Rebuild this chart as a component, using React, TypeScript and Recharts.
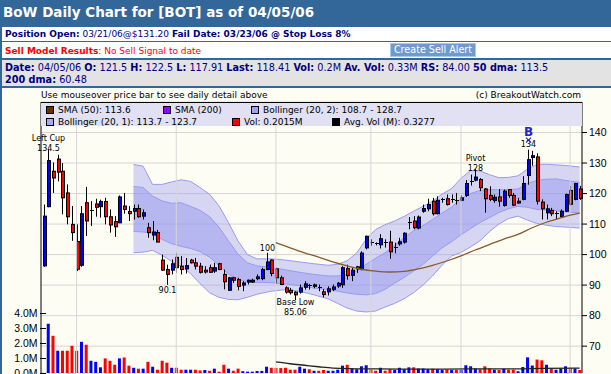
import React from 'react';
import {
  ComposedChart,
  Bar,
  Line,
  Area,
  XAxis,
  YAxis,
  CartesianGrid,
  ReferenceLine,
  ReferenceDot,
  Cell,
} from 'recharts';

// trading days shown, 10/21/05 .. 04/05/06
const octDays = ['10/21', '10/24', '10/25', '10/26', '10/27', '10/28', '10/31'];
const novDays = ['11/01', '11/02', '11/03', '11/04', '11/07', '11/08', '11/09', '11/10', '11/11', '11/14', '11/15', '11/16', '11/17', '11/18', '11/21', '11/22', '11/23', '11/25', '11/28', '11/29', '11/30'];
const decDays = ['12/01', '12/02', '12/05', '12/06', '12/07', '12/08', '12/09', '12/12', '12/13', '12/14', '12/15', '12/16', '12/19', '12/20', '12/21', '12/22', '12/23', '12/27', '12/28', '12/29', '12/30'];
const janDays = ['01/03', '01/04', '01/05', '01/06', '01/09', '01/10', '01/11', '01/12', '01/13', '01/17', '01/18', '01/19', '01/20', '01/23', '01/24', '01/25', '01/26', '01/27', '01/30', '01/31'];
const febDays = ['02/01', '02/02', '02/03', '02/06', '02/07', '02/08', '02/09', '02/10', '02/13', '02/14', '02/15', '02/16', '02/17', '02/21', '02/22', '02/23', '02/24', '02/27', '02/28'];
const marDays = ['03/01', '03/02', '03/03', '03/06', '03/07', '03/08', '03/09', '03/10', '03/13', '03/14', '03/15', '03/16', '03/17', '03/20', '03/21', '03/22', '03/23', '03/24', '03/27', '03/28', '03/29', '03/30', '03/31'];
const aprDays = ['04/03', '04/04', '04/05'];
const days = [...octDays, ...novDays, ...decDays, ...janDays, ...febDays, ...marDays, ...aprDays];

const opens = [
  96.3, 115.7, 127.3, 131.3, 127.3, 120.2, 109.9, 104.3, 96.5, 117.0,
  114.3, 116.6, 115.7, 117.4, 112.4, 110.8, 110.4, 115.9, 114.1, 114.2,
  115.1, 112.6, 108.8, 106.4, 107.2, 98.2, 95.1, 94.9, 99.1, 96.2,
  95.3, 98.2, 97.3, 96.2, 94.9, 95.7, 94.6, 97.0, 93.5, 88.3,
  92.4, 91.8, 90.0, 91.0, 91.0, 92.1, 92.1, 95.1, 98.2, 95.3,
  92.4, 89.1, 88.3, 87.7, 87.7, 89.3, 89.9, 89.6, 89.3, 87.8,
  87.8, 88.6, 89.7, 90.1, 95.4, 93.2, 96.0, 95.2, 102.2, 104.2,
  103.5, 103.2, 104.2, 104.1, 102.0, 103.5, 104.1, 110.6, 111.0, 108.7,
  114.2, 115.0, 117.5, 113.4, 118.3, 118.3, 118.2, 117.6, 117.8, 119.4,
  124.1, 124.4, 124.6, 121.5, 119.4, 117.7, 118.9, 116.1, 121.3, 119.4,
  116.9, 118.1, 125.9, 131.8, 132.0, 117.2, 113.7, 114.5, 113.7, 112.4,
  114.2, 121.0, 118.1, 121.5,
];
const highs = [
  116.4, 134.5, 130.2, 132.7, 130.0, 123.0, 115.9, 109.9, 115.9, 122.2,
  117.5, 118.3, 118.0, 118.6, 114.8, 112.6, 119.4, 120.2, 115.9, 116.4,
  116.4, 114.8, 110.4, 111.0, 108.1, 100.0, 96.7, 98.4, 100.6, 99.5,
  98.9, 98.6, 98.9, 97.3, 96.2, 96.7, 97.3, 97.3, 95.1, 92.7,
  92.7, 92.4, 91.3, 91.8, 92.1, 93.5, 95.7, 100.6, 98.4, 95.7,
  93.1, 89.6, 89.1, 88.0, 90.2, 91.3, 90.4, 90.5, 90.2, 88.7,
  89.6, 90.2, 91.0, 96.2, 96.7, 95.7, 96.3, 101.1, 106.2, 105.0,
  104.0, 106.7, 105.0, 107.8, 103.9, 105.5, 107.3, 112.3, 112.6, 112.8,
  116.4, 118.3, 118.6, 119.1, 118.6, 119.7, 119.7, 120.2, 119.4, 124.4,
  126.2, 128.0, 125.1, 121.8, 122.4, 119.7, 121.5, 121.3, 121.5, 120.2,
  118.6, 125.7, 134.4, 134.0, 133.2, 118.1, 116.4, 115.3, 114.2, 114.8,
  120.0, 122.5, 123.5, 122.5,
];
const lows = [
  96.0, 115.5, 120.2, 124.0, 113.2, 109.9, 104.5, 94.6, 96.0, 106.1,
  109.4, 112.4, 112.1, 109.9, 107.2, 105.8, 110.4, 113.4, 111.0, 111.5,
  112.1, 111.5, 105.5, 104.7, 104.1, 94.6, 90.1, 93.5, 94.0, 93.5,
  93.8, 97.1, 95.1, 93.8, 93.8, 94.0, 94.0, 94.9, 88.6, 88.3,
  90.7, 88.3, 88.0, 90.2, 90.7, 91.6, 91.6, 94.9, 92.9, 90.5,
  90.0, 87.2, 86.9, 85.06, 87.2, 88.5, 88.5, 89.0, 88.0, 86.0,
  86.6, 88.0, 89.1, 89.1, 91.8, 91.3, 94.0, 94.8, 101.7, 102.9,
  103.0, 102.0, 102.3, 98.6, 100.4, 102.9, 103.6, 108.3, 108.3, 108.3,
  113.7, 114.2, 112.8, 113.2, 117.0, 116.1, 117.0, 116.4, 117.5, 118.9,
  122.6, 124.0, 120.8, 113.7, 117.5, 117.0, 115.7, 115.7, 118.6, 115.9,
  116.7, 117.8, 122.9, 129.1, 116.4, 111.5, 111.5, 112.6, 111.5, 112.1,
  113.9, 116.0, 117.8, 117.91,
];
const closes = [
  112.6, 130.8, 125.1, 127.0, 118.6, 112.4, 107.2, 95.2, 113.4, 111.0,
  114.6, 115.5, 117.4, 112.4, 109.7, 109.1, 118.9, 114.8, 113.4, 115.1,
  112.4, 113.7, 107.2, 107.4, 104.1, 94.9, 93.5, 97.0, 95.7, 95.1,
  96.4, 97.3, 96.2, 94.2, 94.3, 94.2, 95.7, 95.1, 91.1, 92.4,
  91.6, 89.6, 90.7, 91.6, 91.6, 92.7, 95.1, 97.6, 93.8, 92.4,
  90.2, 87.7, 87.5, 86.8, 89.1, 90.4, 89.6, 90.1, 89.0, 86.9,
  88.8, 89.4, 90.6, 95.7, 93.1, 94.9, 95.3, 100.5, 106.0, 103.9,
  103.7, 105.2, 104.0, 100.9, 102.4, 104.2, 107.0, 110.4, 108.8, 112.3,
  115.1, 116.4, 113.4, 117.8, 118.1, 116.4, 118.0, 117.9, 118.6, 123.3,
  123.9, 125.4, 121.9, 118.3, 118.1, 118.8, 117.5, 120.8, 119.4, 116.2,
  117.5, 123.3, 131.1, 132.4, 117.5, 115.0, 115.0, 113.4, 113.5, 114.2,
  119.7, 116.5, 123.3, 118.41,
];
// volume, millions of shares
const volumes = [
  0, 3.3, 2.49, 1.49, 1.49, 1.49, 1.82, 1.49, 2.09, 1.89,
  0.82, 0.75, 0.38, 0.98, 0.82, 0.55, 0.98, 1.04, 0.49, 0.35,
  0.29, 0.29, 0.75, 0.42, 0.22, 0.82, 0.69, 0.35, 0.35, 0.22,
  0.22, 0.22, 0.22, 0.17, 0.2, 0.15, 0.29, 0.09, 0.55, 0.29,
  0.15, 0.29, 0.12, 0.09, 0.09, 0.13, 0.14, 0.42, 0.35, 0.34,
  0.33, 0.35, 0.22, 0.22, 0.42, 0.29, 0.25, 0.15, 0.15, 0.2,
  0.15, 0.15, 0.22, 0.49, 0.55, 0.3, 0.25, 0.45, 0.52, 0.22,
  0.15, 0.35, 0.15, 0.25, 0.2, 0.35, 0.25, 0.38, 0.38, 0.3,
  0.3, 0.25, 0.28, 0.25, 0.2, 0.22, 0.2, 0.2, 0.2, 0.52,
  0.45, 0.3, 0.25, 0.45, 0.3, 0.22, 0.2, 0.28, 0.22, 0.22,
  0.12, 0.4, 1.05, 0.5, 0.9, 0.85, 0.55, 0.3, 0.22, 0.3,
  0.45, 0.3, 0.3, 0.2015,
];

// Bollinger bands, read at these day indexes
const bandDays = [19, 21, 23, 25, 27, 29, 31, 33, 35, 37, 39, 41, 43, 45, 48, 51, 54, 57, 60, 62, 64, 66, 68, 70, 72, 74, 76, 78, 80, 82, 84, 86, 88, 90, 92, 94, 96, 98, 100, 102, 104, 106, 108, 110, 113];
const bollUpper2 = [129.5, 129.0, 123.0, 123.0, 123.8, 124.5, 124.0, 122.0, 119.8, 116.0, 110.5, 104.5, 100.0, 98.6, 98.6, 98.2, 97.6, 97.0, 96.5, 96.8, 98.0, 100.5, 105.0, 108.2, 109.8, 111.0, 112.5, 114.2, 115.8, 117.5, 119.8, 121.6, 125.0, 127.5, 127.4, 126.2, 125.2, 125.3, 125.8, 128.0, 129.5, 129.6, 129.4, 129.2, 128.7];
const bollUpper1 = [122.3, 122.0, 119.2, 117.6, 116.8, 117.0, 115.8, 114.5, 112.5, 109.0, 104.5, 100.2, 97.3, 96.3, 95.8, 95.0, 94.2, 93.5, 93.0, 93.0, 93.5, 94.8, 96.8, 98.8, 100.6, 103.0, 105.5, 107.8, 109.5, 111.5, 113.6, 115.5, 118.3, 120.0, 121.0, 121.3, 121.2, 121.3, 121.5, 123.3, 124.3, 124.7, 124.8, 124.3, 123.7];
const bollLower1 = [107.6, 107.4, 107.0, 105.0, 103.6, 102.7, 102.0, 101.0, 99.2, 96.5, 93.6, 91.8, 91.0, 90.9, 90.8, 90.4, 89.8, 89.0, 88.6, 88.0, 87.4, 87.0, 86.8, 87.2, 88.6, 90.6, 92.5, 94.6, 96.8, 99.5, 102.2, 104.2, 106.5, 108.5, 110.5, 112.1, 113.8, 115.0, 115.8, 115.5, 114.8, 114.6, 114.4, 114.0, 113.7];
const bollLower2 = [100.6, 100.8, 101.4, 99.8, 97.8, 96.2, 93.8, 90.5, 87.5, 86.0, 85.3, 85.2, 86.0, 87.0, 88.0, 88.5, 88.0, 86.8, 85.5, 84.0, 82.5, 81.5, 81.2, 81.5, 82.8, 84.0, 85.5, 87.5, 90.0, 93.0, 96.5, 99.5, 100.7, 102.5, 104.5, 107.5, 110.0, 111.8, 112.6, 111.3, 110.2, 109.6, 109.2, 109.0, 108.7];

const smaDays = [49, 52, 55, 58, 61, 64, 67, 70, 73, 76, 79, 82, 85, 88, 91, 94, 97, 100, 103, 106, 109, 111, 113];
const sma50 = [103.9, 102.2, 100.6, 99.2, 97.6, 96.3, 95.2, 94.6, 94.3, 94.5, 95.3, 96.5, 97.9, 99.6, 101.5, 103.3, 105.1, 106.6, 108.8, 110.6, 112.0, 112.9, 113.6];
const avgVolDays = [49, 52, 55, 58, 61, 64, 70, 80, 90, 100, 105, 113];
const avgVol = [0.74, 0.62, 0.52, 0.42, 0.33, 0.29, 0.27, 0.26, 0.27, 0.28, 0.31, 0.33];

const monthStarts = ['11/01', '12/01', '01/03', '02/01', '03/01', '04/03'];
const priceTicks = [70, 80, 90, 100, 110, 120, 130, 140];
const volTicks = [0, 1, 2, 3, 4];
const VOL_MAX = 18.15;

const noteDays = [1, 26, 47, 53, 91];
const noteTitles = ['Left Cup', '', '', 'Base Low', 'Pivot'];
const noteValues = ['134.5', '90.1', '100', '85.06', '128'];
const noteBelow = [false, true, false, true, false];
const buyDay = 102;
const buyLabel = 'B';
const buyValue = '134';

const rows = days.map((d, i) => ({
  d,
  o: opens[i],
  h: highs[i],
  l: lows[i],
  c: closes[i],
  v: volumes[i],
  up: i === 0 || closes[i] >= closes[i - 1],
  u2: null as number | null,
  u1: null as number | null,
  l1: null as number | null,
  l2: null as number | null,
  sma: null as number | null,
  av: null as number | null,
  note: noteDays.indexOf(i),
  buy: i === buyDay,
}));
bandDays.forEach((day, k) => {
  rows[day].u2 = bollUpper2[k];
  rows[day].u1 = bollUpper1[k];
  rows[day].l1 = bollLower1[k];
  rows[day].l2 = bollLower2[k];
});
smaDays.forEach((day, k) => { rows[day].sma = sma50[k]; });
avgVolDays.forEach((day, k) => { rows[day].av = avgVol[k]; });

const BLUE_UP = '#0000ff';
const RED_DN = '#ff0000';
const FRAME = '#336699';
const NAVY = '#000080';
const UI_FONT = '"DejaVu Sans", Verdana, sans-serif';
const AXIS_FONT = '"Liberation Sans", Arial, sans-serif';
const GRID = '#d6d6d6';
const PLOT_LEFT = 41;
const PLOT_TOP = 102;
const PLOT_H = 271;

const Candle = (props: any) => {
  const { x, y, width, height, payload } = props;
  if (!payload || !Number.isFinite(x) || !Number.isFinite(y)) return null;
  const top = Math.min(y, y + height);
  const span = payload.h - payload.l;
  const k = span > 0 ? Math.abs(height) / span : 0;
  const py = (v: number) => top + (payload.h - v) * k;
  const cx = Math.round(x + width / 2) + 0.5;
  const yo = py(payload.o);
  const yc = py(payload.c);
  const bt = Math.min(yo, yc);
  const bb = Math.max(yo, yc);
  const up = payload.c >= payload.o;
  const txt = { fontSize: 8, fontFamily: UI_FONT, fill: '#000', textAnchor: 'middle' as const };
  const labels: React.ReactNode[] = [];
  if (payload.note >= 0) {
    const n = payload.note;
    if (noteBelow[n]) {
      const yl = py(payload.l);
      if (noteTitles[n]) {
        labels.push(<text key="t" x={cx} y={yl + 5} {...txt}>{noteTitles[n]}</text>);
        labels.push(<text key="v" x={cx} y={yl + 14.5} {...txt}>{noteValues[n]}</text>);
      } else {
        labels.push(<text key="v" x={cx} y={yl + 8.5} {...txt}>{noteValues[n]}</text>);
      }
    } else {
      const yh = py(payload.h);
      if (noteTitles[n]) {
        labels.push(<text key="t" x={cx} y={yh - 8.5} {...txt}>{noteTitles[n]}</text>);
        labels.push(<text key="v" x={cx} y={yh + 1.5} {...txt}>{noteValues[n]}</text>);
      } else {
        labels.push(<text key="v" x={cx} y={yh - 1.5} {...txt}>{noteValues[n]}</text>);
      }
    }
  }
  if (payload.buy) {
    const yh = py(payload.h);
    labels.push(<text key="bv" x={cx} y={yh - 3} {...txt}>{buyValue}</text>);
    labels.push(
      <path key="bm" d={`M${cx - 2.5},${yh - 12} L${cx + 2.5},${yh - 7} M${cx + 2.5},${yh - 12} L${cx - 2.5},${yh - 7}`} stroke="#2222cc" strokeWidth={1.2} />
    );
    labels.push(
      <text key="bl" x={cx} y={yh - 14} fontSize={12} fontWeight="bold" fontFamily={UI_FONT} fill="#2222cc" textAnchor="middle">{buyLabel}</text>
    );
  }
  return (
    <g>
      <line x1={cx} x2={cx} y1={top} y2={top + Math.abs(height)} stroke="#000" strokeWidth={1} />
      {bb - bt < 1.5 ? (
        <line x1={cx - 1.5} x2={cx + 2.5} y1={Math.round(bt) + 0.5} y2={Math.round(bt) + 0.5} stroke="#000" strokeWidth={1} />
      ) : (
        <rect x={cx - 1} y={bt} width={3} height={bb - bt} fill={up ? BLUE_UP : RED_DN} stroke="#000" strokeWidth={1} />
      )}
      {labels}
    </g>
  );
};

// volume axis tick mark, drawn just inside the plot
const VolTickMark = (props: any) => {
  const { cy } = props;
  if (!Number.isFinite(cy)) return null;
  const yy = Math.round(cy) + 0.5;
  return <line x1={PLOT_LEFT - 1} x2={PLOT_LEFT + 5} y1={yy} y2={yy} stroke="#000" strokeWidth={1} />;
};

const TextLine = ({ top, size = 9, children }: { top: number; size?: number; children: React.ReactNode }) => (
  <div style={{ position: 'absolute', left: 3, top, lineHeight: '12px', fontSize: size, whiteSpace: 'nowrap' }}>{children}</div>
);

const LegendItem = ({ x, y, color, text }: { x: number; y: number; color: string; text: string }) => (
  <div style={{ position: 'absolute', left: x, top: y, whiteSpace: 'nowrap', fontSize: 9, lineHeight: '12px', color: '#000' }}>
    <span style={{ position: 'absolute', left: 0, top: 2, width: 6, height: 6, background: color, border: '1px solid #000' }} />
    <span style={{ position: 'absolute', left: 12, top: 0 }}>{text}</span>
  </div>
);

export default function App() {
  return (
    <div style={{ position: 'absolute', left: 0, top: 0, width: 611, height: 374, overflow: 'hidden', background: FRAME, fontFamily: UI_FONT }}>
      <div style={{ position: 'absolute', left: 3, top: 4, lineHeight: '16px', fontSize: 13.5, fontWeight: 'bold', color: '#fff', whiteSpace: 'nowrap' }}>
        BoW Daily Chart for [BOT] as of 04/05/06
      </div>

      <div style={{ position: 'absolute', left: 2, top: 27, width: 609, height: 14, background: '#fff', color: NAVY }}>
        <TextLine top={1}>
          <b>Position Open:</b> 03/21/06@$131.20 <b>Fail Date: 03/23/06 @ Stop Loss 8%</b>
        </TextLine>
      </div>

      <div style={{ position: 'absolute', left: 2, top: 42, width: 609, height: 16, background: '#fff', color: '#ff0000' }}>
        <TextLine top={3}>
          <b>Sell Model Results</b>: No Sell Signal to date
        </TextLine>
        <div style={{ position: 'absolute', left: 388, top: 1, width: 84, height: 12, background: '#6d9bd0', border: '1px solid #a9c8ea', color: '#fff', fontSize: 9.6, lineHeight: '12px', textAlign: 'center', whiteSpace: 'nowrap' }}>
          Create Sell Alert
        </div>
      </div>

      <div style={{ position: 'absolute', left: 2, top: 60, width: 609, height: 26, background: '#e3e3e3', color: NAVY }}>
        <TextLine top={2} size={9.7}>
          <b>Date:</b> 04/05/06 <b>O:</b> 121.5 <b>H:</b> 122.5 <b>L:</b> 117.91 <b>Last:</b> 118.41 <b>Vol:</b> 0.2M <b>Av. Vol:</b> 0.33M <b>RS:</b> 84.00 <b>50 dma:</b> 113.5
        </TextLine>
        <TextLine top={14} size={9.7}>
          <b>200 dma:</b> 60.48
        </TextLine>
      </div>

      <div style={{ position: 'absolute', left: 2, top: 88, width: 609, height: 286, background: '#fdfdf4' }} />

      <div style={{ position: 'absolute', left: 0, top: 88 }}>
        <ComposedChart width={611} height={300} data={rows} margin={{ top: 14, right: 0, bottom: 0, left: 0 }}>
          <XAxis xAxisId="x" dataKey="d" height={15} tick={false} tickLine={false} axisLine={{ stroke: '#000', strokeWidth: 2 }} />
          <XAxis xAxisId="v" dataKey="d" hide />
          <YAxis
            yAxisId="vol"
            orientation="left"
            width={41}
            domain={[0, VOL_MAX]}
            ticks={volTicks}
            tickLine={false}
            tick={false}
            axisLine={{ stroke: '#000' }}
          />
          <YAxis
            yAxisId="price"
            orientation="right"
            width={29}
            domain={[61.2, 150]}
            ticks={priceTicks}
            interval={0}
            tickSize={5}
            tickMargin={2}
            tickLine={{ stroke: '#000' }}
            axisLine={{ stroke: '#000' }}
            tick={{ fontSize: 10.5, fill: '#000', fontFamily: AXIS_FONT }}
          />
          <CartesianGrid xAxisId="x" yAxisId="price" vertical={false} stroke={GRID} />
          {monthStarts.map((m) => (
            <ReferenceLine key={m} x={m} xAxisId="x" yAxisId="price" stroke={GRID} />
          ))}
          <Area
            xAxisId="x"
            yAxisId="price"
            type="linear"
            dataKey={(r: any) => (r.u2 == null ? null : [r.l2, r.u2])}
            connectNulls
            stroke="#9a9af0"
            strokeWidth={1}
            fill="#9696f0"
            fillOpacity={0.38}
            dot={false}
            activeDot={false}
            isAnimationActive={false}
          />
          <Area
            xAxisId="x"
            yAxisId="price"
            type="linear"
            dataKey={(r: any) => (r.u1 == null ? null : [r.l1, r.u1])}
            connectNulls
            stroke="#9a9af0"
            strokeWidth={1}
            fill="#9696f0"
            fillOpacity={0.5}
            dot={false}
            activeDot={false}
            isAnimationActive={false}
          />
          <Line
            xAxisId="x"
            yAxisId="price"
            type="monotone"
            dataKey="sma"
            connectNulls
            stroke="#8b5a2b"
            strokeWidth={1.3}
            dot={false}
            activeDot={false}
            isAnimationActive={false}
          />
          <Bar
            xAxisId="x"
            yAxisId="price"
            dataKey={(r: any) => [r.l, r.h]}
            barSize={3}
            shape={<Candle />}
            isAnimationActive={false}
          />
          <Bar xAxisId="v" yAxisId="vol" dataKey="v" barSize={3} isAnimationActive={false}>
            {rows.map((r) => (
              <Cell key={r.d} fill={r.up ? BLUE_UP : RED_DN} />
            ))}
          </Bar>
          <Line
            xAxisId="x"
            yAxisId="vol"
            type="monotone"
            dataKey="av"
            connectNulls
            stroke="#222"
            strokeWidth={1.3}
            dot={false}
            activeDot={false}
            isAnimationActive={false}
          />
          {volTicks.map((t) => (
            <ReferenceDot
              key={`vt${t}`}
              x={days[0]}
              y={t}
              xAxisId="x"
              yAxisId="vol"
              r={0}
              ifOverflow="visible"
              shape={(p: any) => <VolTickMark {...p} />}
            />
          ))}
        </ComposedChart>
      </div>

      {/* volume axis labels, aligned with the volume scale (0..VOL_MAX over the plot height) */}
      {volTicks.map((t) => (
        <div
          key={`vl${t}`}
          style={{
            position: 'absolute',
            right: 611 - 37.5,
            top: PLOT_TOP + PLOT_H * (1 - t / VOL_MAX) - 6,
            fontSize: 10.5,
            lineHeight: '12px',
            fontFamily: AXIS_FONT,
            color: '#000',
            whiteSpace: 'nowrap',
            textAlign: 'right',
          }}
        >
          {`${t.toFixed(1)}M`}
        </div>
      ))}

      <div style={{ position: 'absolute', left: 41, top: 89, fontSize: 9, lineHeight: '12px', color: '#000', whiteSpace: 'nowrap' }}>
        Use mouseover price bar to see daily detail above
      </div>
      <div style={{ position: 'absolute', right: 30, top: 89, fontSize: 9, lineHeight: '12px', color: '#000', whiteSpace: 'nowrap' }}>
        (c) BreakoutWatch.com
      </div>

      <div style={{ position: 'absolute', left: 41, top: 102, width: 541, height: 23, background: '#e1e1f3', borderTop: '1px solid #000' }}>
        <LegendItem x={5} y={1} color="#663300" text="SMA (50): 113.6" />
        <LegendItem x={122} y={1} color="#9900ff" text="SMA (200)" />
        <LegendItem x={210} y={1} color="#a0a0f0" text="Bollinger (20, 2): 108.7 - 128.7" />
        <LegendItem x={5} y={13} color="#a8a8f4" text="Bollinger (20, 1): 113.7 - 123.7" />
        <LegendItem x={191} y={13} color="#ff0000" text="Vol: 0.2015M" />
        <LegendItem x={291} y={13} color="#000000" text="Avg. Vol (M): 0.3277" />
      </div>
    </div>
  );
}
